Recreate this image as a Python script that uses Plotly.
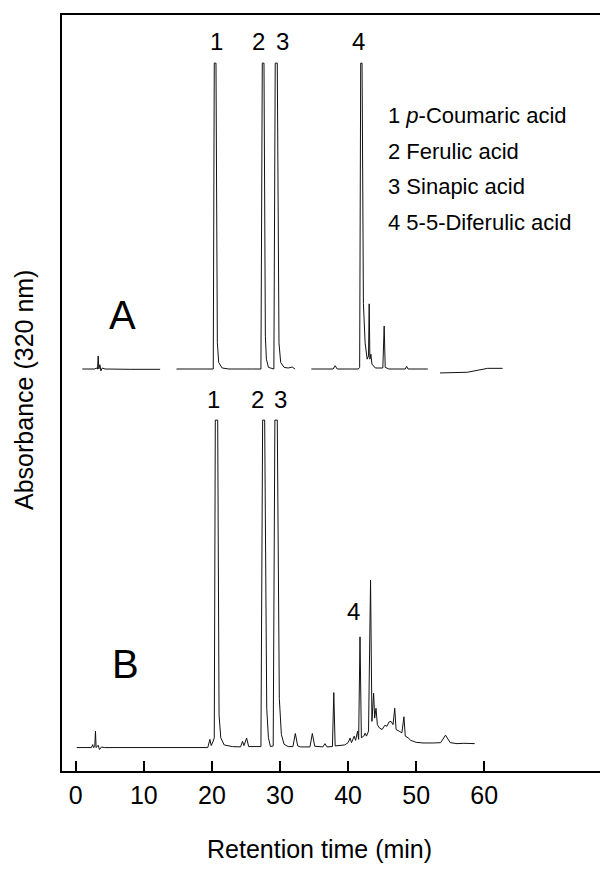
import plotly.graph_objects as go

# ---------------- data ----------------
# Chromatogram A (standards); absorbance relative to own baseline, None = gap in trace
time_a = [0.97, 2.8, 3.0, 3.2, 3.3, 3.4, 3.55, 3.7, 3.9, 4.3, 8.0, 12.4, None,
          14.8, 18.0, 20.2, 20.35, 20.6, 20.8, 21.0, 21.5, 22.5, 26.0, 27.2, 27.4, 27.65,
          27.85, 28.0, 28.3, 28.8, 29.1, 29.3, 29.6, 29.85, 30.1, 30.6, 31.2, 31.8, 32.2, None,
          34.6, 37.8, 38.1, 38.4, 41.5, 41.7, 41.85, 42.05, 42.25, 42.5, 42.8, 43.0, 43.1,
          43.2, 43.35, 43.5, 44.0, 45.1, 45.3, 45.45, 46.0, 48.4, 48.6, 48.8, 51.7, None,
          53.5, 57.5, 60.5, 62.7]
abs_a = [0, 0, 0.3, 0, 4.0, 0, 1.3, -0.6, 0.3, 0, -0.1, -0.1, None,
         0, 0, 0, 93.4, 93.4, 8, 2, 0.3, 0, 0, 0, 93.4, 93.4,
         10, 3, 0.5, 0.2, 0, 93.4, 93.4, 8, 2, 0.5, 0.3, 0.6, 0, None,
         0, 0, 1.0, 0, 0, 0.5, 93.4, 93.4, 20, 8, 3, 4, 19.9,
         3, 4.5, 1.5, 0.3, 0.3, 13.1, 0.5, 0, 0, 0.8, 0, 0, None,
         -1.2, -1.0, 0.2, 0.2]

# Chromatogram B (sample extract)
time_b = [0.15, 2.3, 2.5, 2.6, 2.8, 2.9, 3.0, 3.3, 3.5, 3.8, 4.2, 19.4, 19.7, 19.9,
          20.2, 20.35, 20.5, 20.85, 21.05, 21.3, 21.8, 23.0, 24.2, 24.5, 24.7, 25.1, 25.4,
          27.2, 27.45, 27.75, 28.05, 28.3, 28.6, 29.0, 29.25, 29.6, 29.9, 30.2, 30.6, 31.2,
          31.9, 32.25, 32.6, 33.0, 34.4, 34.75, 35.1, 36.3, 36.6, 36.9, 37.7, 37.9, 38.1,
          39.5, 40.0, 40.3, 40.5, 40.9, 41.1, 41.4, 41.55, 41.75, 41.95, 42.3, 42.5, 42.7,
          43.0, 43.3, 43.5, 43.75, 43.9, 44.1, 44.3, 44.6, 45.0, 45.4, 45.7, 46.0, 46.3,
          46.6, 46.85, 47.05, 47.5, 47.9, 48.2, 48.4, 48.8, 49.2, 50.0, 51.0, 52.5, 53.6,
          54.3, 55.0, 56.0, 57.0, 58.6]
abs_b = [0, 0, 0.9, 0, 0.3, 5.0, 0, 0.7, -0.6, 0.2, 0, 0, 2.5, 0.6,
         2.0, 3.0, 100, 100, 10, 3, 0.8, 0.3, 0.2, 1.9, 0.6, 2.9, 0.3,
         0.3, 100, 100, 12, 3, 0.3, 0.5, 100, 100, 15, 4, 1, 0.3,
         0.3, 4.3, 0.5, 0.2, 0.2, 4.3, 0.4, 0.2, 1.2, 0.2, 0.3, 16.8, 0.5,
         0.8, 1.5, 2.9, 1.5, 3.5, 2.2, 5.0, 2.5, 33.8, 3, 3.5, 4.4, 3.5,
         5, 51.1, 8, 16.6, 9, 12, 7, 6, 5.5, 6.8, 6.5, 7.8, 8.0,
         7, 12.0, 5.5, 5, 4.5, 9.4, 3.5, 3, 2.2, 1.6, 1.4, 1.4, 1.5,
         3.8, 1.5, 1.2, 1.3, 1.2]

x_ticks = [0, 10, 20, 30, 40, 50, 60]
peak_labels = ["1", "2", "3", "4"]
label_x_a = [20.7, 26.9, 30.3, 41.6]
label_x_b = [20.3, 26.65, 30.0, 40.8]
label_y_b = [106.3, 106.3, 106.3, 41.6]
legend_lines = ["1 <i>p</i>-Coumaric acid", "2 Ferulic acid", "3 Sinapic acid",
                "4 5-5-Diferulic acid"]

# ---------------- layout constants ----------------
OFFSET_A = 115.6          # vertical offset of chromatogram A above B
LABEL_Y_A = 215.6
FONT = "Liberation Sans, Arial, Helvetica, sans-serif"

abs_a_plot = [None if v is None else v + OFFSET_A for v in abs_a]

fig = go.Figure()
fig.add_trace(go.Scatter(x=time_a, y=abs_a_plot, mode="lines", connectgaps=False,
                         line=dict(color="#111111", width=1), showlegend=False,
                         hoverinfo="skip"))
fig.add_trace(go.Scatter(x=time_b, y=abs_b, mode="lines",
                         line=dict(color="#111111", width=1), showlegend=False,
                         hoverinfo="skip"))

ann = []
for lab, xa in zip(peak_labels, label_x_a):
    ann.append(dict(x=xa, y=LABEL_Y_A, text=lab, showarrow=False,
                    xanchor="center", yanchor="middle",
                    font=dict(size=24, family=FONT, color="black")))
for lab, xb, yb in zip(peak_labels, label_x_b, label_y_b):
    ann.append(dict(x=xb, y=yb, text=lab, showarrow=False,
                    xanchor="center", yanchor="middle",
                    font=dict(size=24, family=FONT, color="black")))
leg_y = [193.0, 182.1, 171.4, 160.4]
for t, yy in zip(legend_lines, leg_y):
    ann.append(dict(x=45.5, y=yy, text=t, showarrow=False, xanchor="left",
                    yanchor="middle",
                    font=dict(size=22, family=FONT, color="black")))
ann.append(dict(x=6.8, y=132.2, text="A", showarrow=False, xanchor="center",
                yanchor="middle", font=dict(size=40, family=FONT, color="black")))
ann.append(dict(x=7.25, y=25.5, text="B", showarrow=False, xanchor="center",
                yanchor="middle", font=dict(size=40, family=FONT, color="black")))
ann.append(dict(x=0.4633, y=-0.1016, xref="paper", yref="paper",
                xanchor="center", yanchor="middle",
                text="Retention time (min)", showarrow=False,
                font=dict(size=25, family=FONT, color="black")))
ann.append(dict(x=-0.0662, y=0.504, xref="paper", yref="paper", textangle=-90,
                xanchor="center", yanchor="middle",
                text="Absorbance (320 nm)", showarrow=False,
                font=dict(size=25, family=FONT, color="black")))

# Frame: left, top and bottom edges; the original frame runs past the right
# edge of the picture, so the figure is a bit wider than the window.
frame = [
    dict(type="line", xref="paper", yref="paper", x0=-0.0018, x1=1.05,
         y0=1, y1=1, line=dict(color="black", width=2)),
    dict(type="line", xref="paper", yref="paper", x0=-0.0018, x1=1.05,
         y0=0, y1=0, line=dict(color="black", width=2)),
    dict(type="line", xref="paper", yref="paper", x0=0, x1=0,
         y0=-0.0013, y1=1.0013, line=dict(color="black", width=2)),
]

fig.update_layout(
    width=620, height=870,
    margin=dict(l=61, r=0, t=14, b=98, pad=0),
    paper_bgcolor="white", plot_bgcolor="white",
    annotations=ann,
    shapes=frame,
    xaxis=dict(range=[-2.16, 79.93], tickvals=x_ticks, ticks="inside", ticklen=11,
               tickwidth=2, tickcolor="black", showline=False, showgrid=False,
               zeroline=False, ticklabelstandoff=6,
               tickfont=dict(size=25, family=FONT, color="black")),
    yaxis=dict(range=[-7.46, 224.0], showline=False,
               showticklabels=False, ticks="", showgrid=False, zeroline=False),
)

fig.write_html("out.html", config={"displayModeBar": False},
               post_script=("document.body.style.margin='0px';"
                            "document.body.style.padding='0px';"
                            "document.body.style.overflow='hidden';"
                            "document.documentElement.style.overflow='hidden';"))
